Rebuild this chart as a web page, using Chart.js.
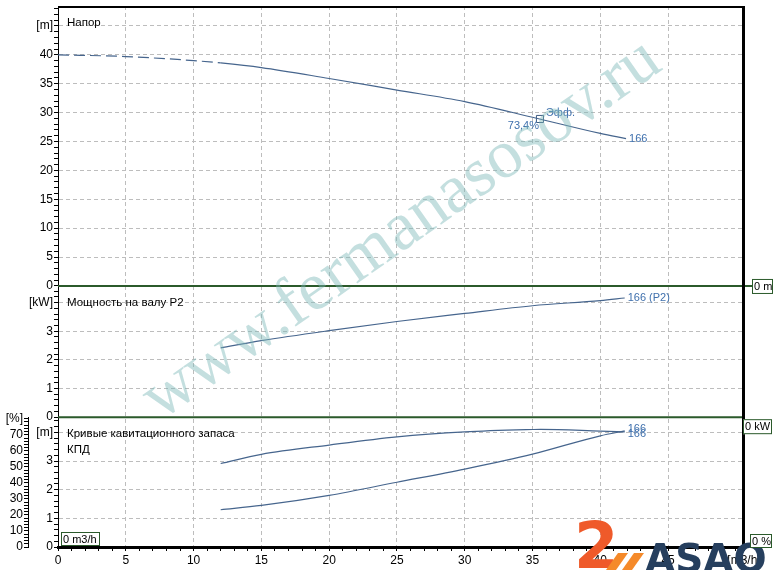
<!DOCTYPE html>
<html>
<head>
<meta charset="utf-8">
<script src="https://cdn.jsdelivr.net/npm/chart.js@4.4.1/dist/chart.umd.min.js"></script>
<style>
  html, body { margin: 0; padding: 0; background: #fff; }
  #wrap { position: relative; width: 775px; height: 570px; }
</style>
</head>
<body>
<div id="wrap"><canvas id="pumpChart" width="775" height="570"></canvas></div>
<script>
// pump 166 curves
const headFlow = [0, 5, 10, 12, 15, 20, 25, 30, 35, 40, 41.9];
const headValue = [40, 39.7, 39.0, 38.6, 37.8, 35.9, 33.9, 31.9, 29.2, 26.4, 25.5];
const headDashedUpTo = 12;

const powerFlow = [12, 15, 20, 25, 30, 35, 40, 41.8];
const powerValue = [2.42, 2.67, 3.02, 3.34, 3.62, 3.89, 4.07, 4.16];

const effFlow = [12, 15, 20, 25, 30, 35, 35.6, 40, 41.8];
const effValue = [52.1, 57.8, 63.6, 68.7, 71.8, 73.3, 73.4, 72.3, 71.8];

const npshFlow = [12, 15, 20, 25, 30, 35, 40, 41.8];
const npshValue = [1.30, 1.45, 1.80, 2.26, 2.72, 3.24, 3.88, 4.05];

const dutyFlow = 35.55;
const dutyHead = 28.9;
const dutyEffText = "73,4%";
const pumpName = "166";

const flowTicks = [0, 5, 10, 15, 20, 25, 30, 35, 40, 45];
const headTicks = [0, 5, 10, 15, 20, 25, 30, 35, 40];
const powerTicks = [0, 1, 2, 3];
const npshTicks = [0, 1, 2, 3];
const effTicks = [0, 10, 20, 30, 40, 50, 60, 70];

const flowUnit = "[m3/h]";
const headUnit = "[m]";
const powerUnit = "[kW]";
const npshUnit = "[m]";
const effUnit = "[%]";

const lineColor = "#46658d";
const textBlue = "#3f70ad";
const gridGrey = "#bdbdbd";
const zeroGreen = "#2b5a2b";
const FONT = '"Liberation Sans", Arial, sans-serif';

Chart.defaults.font.family = FONT;
Chart.defaults.font.size = 12;
Chart.defaults.color = "#000";

const near = (a, b) => Math.abs(a - b) < 1e-6;

function steps(max, step) {
  const out = [];
  for (let i = 0; i * step <= max + 1e-9; i++) out.push(Math.round(i * step * 1000) / 1000);
  return out;
}

function valueAxis({ majors, unit, max, minorStep, stack, weight, width, drawGrid }) {
  const unitAt = majors[majors.length - 1] + (majors[1] - majors[0]);
  return {
    type: "linear",
    position: "left",
    stack,
    stackWeight: weight,
    min: 0,
    max,
    afterBuildTicks(scale) {
      scale.ticks = steps(max, minorStep).map(v => ({ value: v }));
    },
    afterFit(scale) {
      scale.width = width;
      scale.paddingTop = 0;
      scale.paddingBottom = 0;
    },
    ticks: {
      autoSkip: false,
      padding: 1,
      color: "#000",
      callback: v => near(v, unitAt) ? unit : (majors.some(m => near(m, v)) ? String(v) : "")
    },
    grid: {
      drawOnChartArea: drawGrid,
      color: c => {
        const v = c.tick ? c.tick.value : 0;
        if (v === 0) return "transparent";
        return (majors.some(m => near(m, v)) || near(v, unitAt)) ? gridGrey : "transparent";
      },
      tickColor: "#000",
      tickLength: 4,
      lineWidth: 1
    },
    border: { color: "#000", width: 1, dash: [4, 3] }
  };
}

const flowMax = 50.6;

const scales = {
  x: {
    type: "linear",
    position: "bottom",
    min: 0,
    max: flowMax,
    afterBuildTicks(scale) {
      scale.ticks = steps(50, 1).concat([flowMax]).map(v => ({ value: v }));
    },
    afterFit(scale) {
      scale.height = 23;
      scale.paddingLeft = 0;
      scale.paddingRight = 0;
    },
    ticks: {
      autoSkip: false,
      maxRotation: 0,
      padding: 2,
      color: "#000",
      callback: v => near(v, flowMax) ? flowUnit : (flowTicks.some(m => near(m, v)) ? String(v) : "")
    },
    grid: {
      color: c => {
        const v = c.tick ? c.tick.value : 0;
        return (v > 0 && flowTicks.some(m => near(m, v))) ? gridGrey : "transparent";
      },
      tickColor: "#000",
      tickLength: 4
    },
    border: { color: "#000", width: 3, dash: [4, 3] }
  },
  yN: valueAxis({ majors: npshTicks, unit: npshUnit, max: 4.53, minorStep: 0.2, stack: "main", weight: 130.3, width: 30, drawGrid: true }),
  yP: valueAxis({ majors: powerTicks, unit: powerUnit, max: 4.58, minorStep: 0.2, stack: "main", weight: 131.7, width: 30, drawGrid: true }),
  yH: valueAxis({ majors: headTicks, unit: headUnit, max: 48.45, minorStep: 1, stack: "main", weight: 281, width: 30, drawGrid: true }),
  yE: valueAxis({ majors: effTicks, unit: effUnit, max: 81, minorStep: 2, stack: "pct", weight: 130.3, width: 28, drawGrid: false }),
  yPad: {
    type: "linear",
    position: "left",
    stack: "pct",
    stackWeight: 412.7,
    display: false,
    afterFit(scale) { scale.width = 28; scale.paddingTop = 0; scale.paddingBottom = 0; }
  }
};

const toPoints = (xs, ys) => xs.map((x, i) => ({ x, y: ys[i] }));

const curveStyle = {
  borderColor: lineColor,
  borderWidth: 1.2,
  pointRadius: 0,
  fill: false,
  cubicInterpolationMode: "monotone"
};

const datasets = [
  {
    ...curveStyle,
    label: "head",
    data: toPoints(headFlow, headValue),
    yAxisID: "yH",
    segment: { borderDash: c => c.p1.parsed.x <= headDashedUpTo ? [11, 5] : undefined }
  },
  { ...curveStyle, label: "p2", data: toPoints(powerFlow, powerValue), yAxisID: "yP" },
  { ...curveStyle, label: "eff", data: toPoints(effFlow, effValue), yAxisID: "yE" },
  { ...curveStyle, label: "npsh", data: toPoints(npshFlow, npshValue), yAxisID: "yN" },
  {
    label: "duty",
    data: [{ x: dutyFlow, y: dutyHead }],
    yAxisID: "yH",
    showLine: false,
    pointStyle: "rect",
    pointRadius: 5,
    pointBorderWidth: 1,
    pointBorderColor: "#3d5a80",
    pointBackgroundColor: "#fff"
  }
];

function lastPoint(chart, i) {
  const pts = chart.getDatasetMeta(i).data;
  return pts[pts.length - 1];
}

function labelBox(ctx, text, x, y, w, h) {
  ctx.fillStyle = "#fff";
  ctx.fillRect(x, y, w, h);
  ctx.strokeStyle = zeroGreen;
  ctx.lineWidth = 1;
  ctx.strokeRect(x + 0.5, y + 0.5, w - 1, h - 1);
  ctx.fillStyle = "#000";
  ctx.font = "11px " + FONT;
  ctx.textAlign = "left";
  ctx.textBaseline = "middle";
  ctx.fillText(text, x + 2, y + h / 2 + 0.5);
}

const decor = {
  id: "decor",
  afterDraw(chart) {
    const { ctx, chartArea: a, scales: s } = chart;
    ctx.save();

    // zero lines between the panels
    const zH = s.yH.getPixelForValue(0);
    const zP = s.yP.getPixelForValue(0);
    ctx.strokeStyle = zeroGreen;
    ctx.lineWidth = 2;
    ctx.beginPath();
    ctx.moveTo(a.left, zH); ctx.lineTo(a.right + 8, zH);
    ctx.moveTo(a.left, zP); ctx.lineTo(a.right, zP);
    ctx.stroke();

    // frame
    ctx.strokeStyle = "#000";
    ctx.lineWidth = 2;
    ctx.beginPath();
    ctx.moveTo(a.left, a.top + 1); ctx.lineTo(a.right, a.top + 1);
    ctx.stroke();
    ctx.lineWidth = 3;
    ctx.beginPath();
    ctx.moveTo(a.right - 0.5, a.top); ctx.lineTo(a.right - 0.5, a.bottom + 1);
    ctx.stroke();

    labelBox(ctx, "0 m", a.right + 8, zH - 7, 21, 15);
    labelBox(ctx, "0 kW", a.right - 1, zP + 2, 29, 15);
    labelBox(ctx, "0 m3/h", a.left + 3, a.bottom - 15, 39, 14);

    // panel titles
    ctx.fillStyle = "#000";
    ctx.font = "11.5px " + FONT;
    ctx.textAlign = "left";
    ctx.textBaseline = "middle";
    ctx.fillText("Напор", a.left + 9, s.yH.top + 17);
    ctx.fillText("Мощность на валу P2", a.left + 9, s.yP.top + 17);
    ctx.fillText("Кривые кавитационного запаса", a.left + 9, s.yN.top + 17);
    ctx.fillText("КПД", a.left + 9, s.yN.top + 33);

    // curve labels
    ctx.fillStyle = textBlue;
    ctx.font = "11px " + FONT;
    let p = lastPoint(chart, 0);
    ctx.fillText(pumpName, p.x + 3, p.y);
    p = lastPoint(chart, 1);
    ctx.fillText(pumpName + " (P2)", p.x + 3, p.y);
    p = lastPoint(chart, 2);
    ctx.fillText(pumpName, p.x + 3, p.y - 3);
    p = lastPoint(chart, 3);
    ctx.fillText(pumpName, p.x + 3, p.y + 3);
    p = lastPoint(chart, 4);
    ctx.fillText("Эфф.", p.x + 6, p.y - 6);
    ctx.textAlign = "right";
    ctx.fillText(dutyEffText, p.x - 1, p.y + 7);

    // watermark
    ctx.save();
    ctx.translate(402, 230);
    ctx.rotate(-35 * Math.PI / 180);
    ctx.font = '66px "Liberation Serif", serif';
    const wm = "www.fermanasosov.ru";
    const k = 615 / ctx.measureText(wm).width;
    ctx.font = (66 * k).toFixed(1) + 'px "Liberation Serif", serif';
    ctx.textAlign = "center";
    ctx.textBaseline = "middle";
    ctx.fillStyle = "rgba(125, 185, 185, 0.45)";
    ctx.fillText(wm, 0, 0);
    ctx.restore();

    // logo
    ctx.fillStyle = "#ef5a2a";
    ctx.font = 'bold 64px "DejaVu Sans", sans-serif';
    ctx.textAlign = "left";
    ctx.textBaseline = "alphabetic";
    ctx.fillText("2", 574, 568);
    ctx.fillStyle = "#f58a2a";
    ctx.beginPath();
    ctx.moveTo(606, 570); ctx.lineTo(618, 553); ctx.lineTo(628, 553); ctx.lineTo(616, 570);
    ctx.closePath(); ctx.fill();
    ctx.beginPath();
    ctx.moveTo(622, 570); ctx.lineTo(634, 553); ctx.lineTo(644, 553); ctx.lineTo(632, 570);
    ctx.closePath(); ctx.fill();
    ctx.fillStyle = "#263f5e";
    ctx.font = 'bold 39px "DejaVu Sans", sans-serif';
    ctx.fillText("ASAO", 645, 572, 130);

    labelBox(ctx, "0 %", a.right + 6, a.bottom - 13, 22, 14);

    ctx.restore();
  }
};

new Chart(document.getElementById("pumpChart"), {
  type: "line",
  data: { datasets },
  options: {
    responsive: false,
    animation: false,
    layout: { padding: { top: 4, right: 31, bottom: 0, left: 0 } },
    plugins: { legend: { display: false }, tooltip: { enabled: false } },
    scales
  },
  plugins: [decor]
});
</script>
</body>
</html>
